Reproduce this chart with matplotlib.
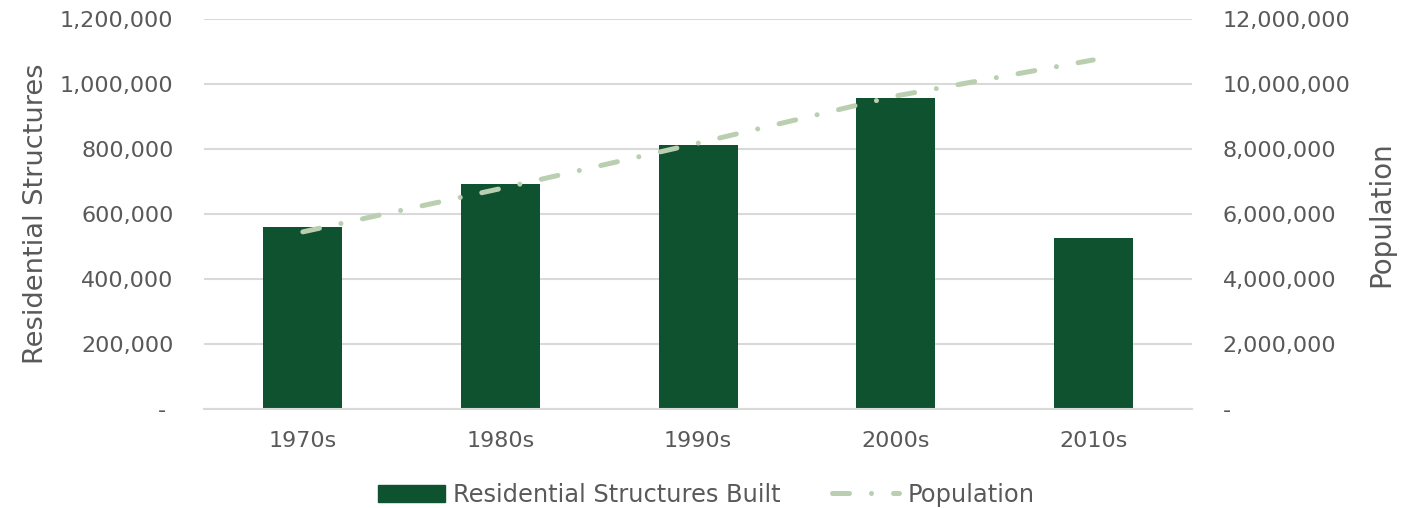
import matplotlib
matplotlib.use("Agg")
import matplotlib.pyplot as plt
from matplotlib.ticker import FuncFormatter
from matplotlib.lines import Line2D
from matplotlib.patches import Patch

# data
decades = ["1970s", "1980s", "1990s", "2000s", "2010s"]
structures = [561000, 693000, 812000, 957000, 527000]
pop_decades = ["1970s", "1980s", "1990s", "2000s", "2010s"]
population = [5450000, 6780000, 8180000, 9630000, 10740000]

BAR = "#0e5230"
LINE = "#b9cfb0"
TXT = "#595959"
GRID = "#d9d9d9"

plt.rcParams['font.family'] = ['DejaVu Sans']


def fmt_left(v, pos):
    if v == 0:
        return "- "
    return f"{v:,.0f}"


def fmt_right(v, pos):
    if v == 0:
        return "-"
    return f"{v:,.0f}"


fig = plt.figure(figsize=(14.12, 5.08), dpi=100)
ax = fig.add_axes([0.1445, 0.1949, 0.6997, 0.7677])
ax2 = ax.twinx()

x = list(range(len(decades)))
ax.bar(x, structures, width=0.4, color=BAR, zorder=2)
ax.set_xlim(-0.5, len(decades) - 0.5)
ax.set_ylim(0, 1200000)
ax.set_yticks(range(0, 1200001, 200000))
ax.yaxis.set_major_formatter(FuncFormatter(fmt_left))
ax.set_xticks(x)
ax.set_xticklabels(decades)
ax.grid(axis='y', color=GRID, linewidth=1.5, zorder=0)
ax.set_axisbelow(True)

px = [decades.index(d) for d in pop_decades]
ax2.plot(px, population, color=LINE, linewidth=3.6,
         dashes=[3.4, 4.4, 0.01, 4.4], dash_capstyle='round', zorder=3)
ax2.set_ylim(0, 12000000)
ax2.set_yticks(range(0, 12000001, 2000000))
ax2.yaxis.set_major_formatter(FuncFormatter(fmt_right))

# put line above bars
ax.set_zorder(1)
ax2.set_zorder(2)
ax2.patch.set_visible(False)

for a in (ax, ax2):
    for s in a.spines.values():
        s.set_visible(False)
    a.tick_params(length=0, labelsize=16, colors=TXT)
ax.spines['bottom'].set_visible(True)
ax.spines['bottom'].set_color(GRID)
ax.spines['bottom'].set_linewidth(1.5)
ax.tick_params(axis='y', pad=22)
ax.tick_params(axis='x', pad=16)
ax2.tick_params(axis='y', pad=22)

ax.set_ylabel("Residential Structures", fontsize=19.6, color=TXT, labelpad=8)
ax2.set_ylabel("Population", fontsize=20, color=TXT, labelpad=12)

handles = [Patch(facecolor=BAR, edgecolor=BAR),
           Line2D([0], [0], color=LINE, linewidth=3.6,
                  dashes=[3.4, 4.4, 0.01, 4.4], dash_capstyle='round')]
fig.legend(handles, ["Residential Structures Built", "Population"],
           loc='center', bbox_to_anchor=(0.5, 0.026), ncol=2, frameon=False,
           fontsize=17.4, labelcolor=TXT, handlelength=2.8, handletextpad=0.33,
           columnspacing=2.1)

fig.savefig("out.png", dpi=100)
